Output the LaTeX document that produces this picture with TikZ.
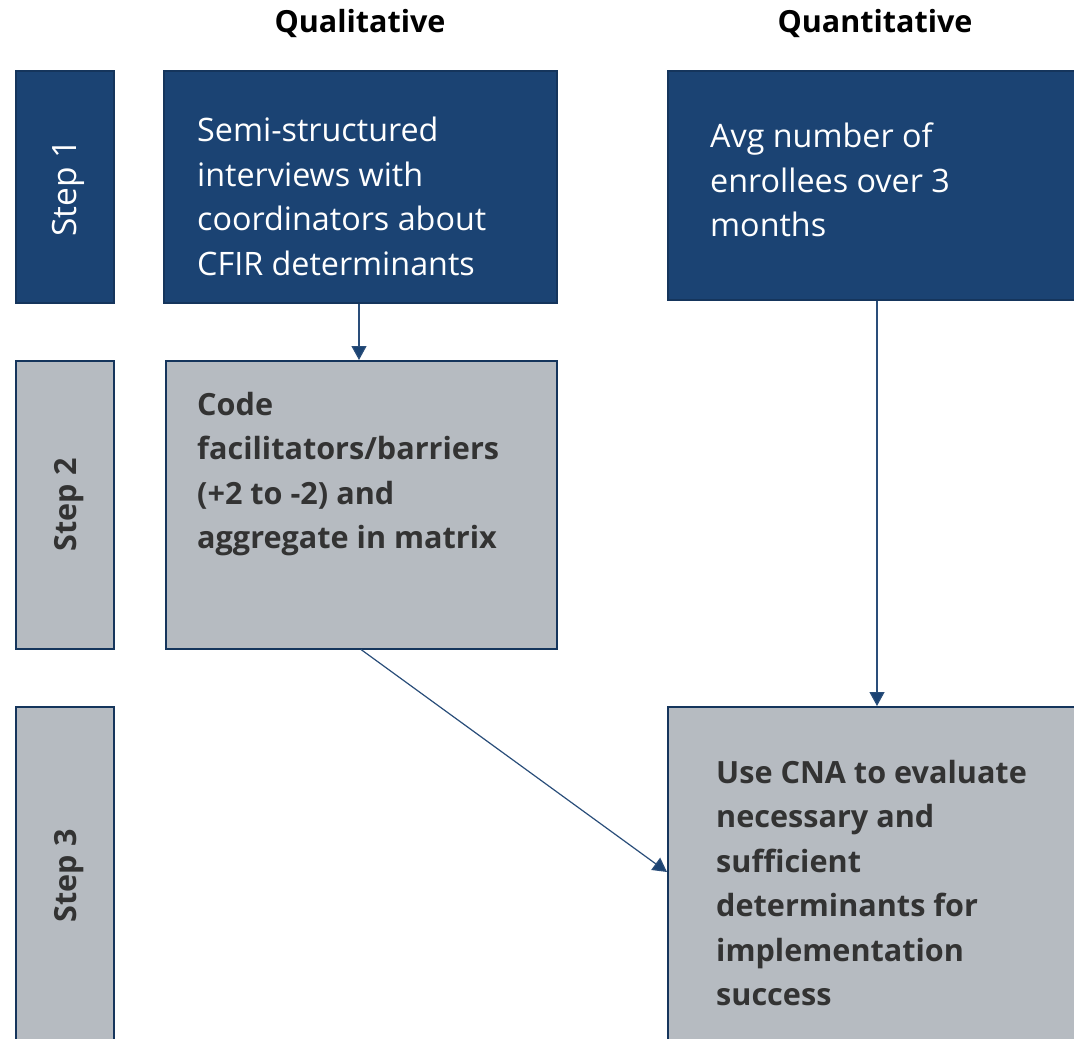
\documentclass[tikz,border=0pt]{standalone}
\usepackage{fontspec}
\setmainfont{Open Sans}
\usetikzlibrary{arrows.meta}
\definecolor{dblue}{HTML}{1B4373}
\definecolor{dborder}{HTML}{15355C}
\definecolor{lgrey}{HTML}{B6BBC1}
\definecolor{txtgrey}{HTML}{333333}
\definecolor{arrowc}{HTML}{2A4E7A}
\tikzset{
  darkbox/.style={draw=dborder, line width=1.5pt, fill=dblue, anchor=north west, inner sep=0pt},
  greybox/.style={draw=dborder, line width=1.5pt, fill=lgrey, anchor=north west, inner sep=0pt},
  steplabel/.style={rotate=90, font=\fontsize{33.5}{34}\selectfont},
  boldsteplabel/.style={rotate=90, text=txtgrey, font=\fontsize{30.5}{34}\selectfont\bfseries},
  bodytxt/.style={anchor=north west, align=left, inner sep=0pt, font=\fontsize{32.3}{44.5}\selectfont},
  boldtxt/.style={anchor=north west, align=left, inner sep=0pt, text=txtgrey, font=\fontsize{30.6}{44.5}\selectfont\bfseries},
  heading/.style={font=\fontsize{30.5}{32}\selectfont\bfseries, text=black},
  conn/.style={draw=arrowc, line width=1.2pt, -{Triangle[length=14pt,width=15pt,fill=dblue]}}
}
\begin{document}
\begin{tikzpicture}[x=1pt,y=-1pt]
\useasboundingbox[fill=white] (0,0) rectangle (1074,1039);
% headings
\node[heading] (hql) at (360,24) {Qualitative};
\node[heading] (hqn) at (875,24) {Quantitative};
% step label boxes
\node[darkbox, minimum width=98pt, minimum height=232pt] (s1) at (15,70) {};
\node[greybox, minimum width=98pt, minimum height=288pt] (s2) at (15,360) {};
\node[greybox, minimum width=98pt, minimum height=360pt] (s3) at (15,706) {};
\node[steplabel, text=white] (s1t) at ([xshift=4pt,yshift=-1pt]s1.center) {Step 1};
\node[boldsteplabel] (s2t) at ([xshift=4pt]s2.center) {Step 2};
\node[boldsteplabel] (s3t) at ([xshift=4pt,yshift=11pt]s3.center) {Step 3};
% content boxes
\node[darkbox, minimum width=393pt, minimum height=232pt] (q1) at (163,70) {};
\node[darkbox, minimum width=440pt, minimum height=229pt] (n1) at (667,70) {};
\node[greybox, minimum width=391pt, minimum height=288pt] (q2) at (165,360) {};
\node[greybox, minimum width=440pt, minimum height=360pt] (n3) at (667,706) {};
% texts
\node[bodytxt, text=white] (q1t) at (197,117) {Semi-structured\\interviews with\\coordinators about\\CFIR determinants};
\node[bodytxt, text=white] (n1t) at (710,123) {Avg number of\\enrollees over 3\\months};
\node[boldtxt] (q2t) at (197,392) {Code\\facilitators/barriers\\(+2 to -2) and\\aggregate in matrix};
\node[boldtxt] (n3t) at (716,760) {Use CNA to evaluate\\necessary and\\sufficient\\determinants for\\implementation\\success};
% connectors
\draw[conn] (q1.south -| 359,0) -- (q2.north -| 359,0);
\draw[conn] (n1.south -| 877,0) -- (n3.north -| 877,0);
\draw[conn] (q2.south -| 361,0) -- (n3.west |- 0,872);
\end{tikzpicture}
\end{document}
